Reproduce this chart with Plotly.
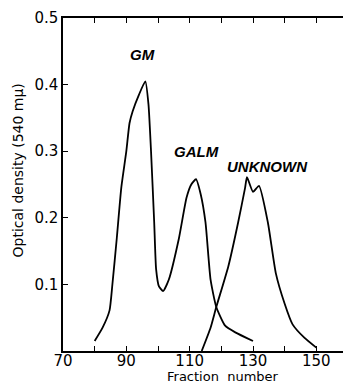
import plotly.graph_objects as go

# GM + GALM elution curve (one continuous trace)
gm_x = [80, 82.5, 84.7, 85.6, 87, 88.4, 90, 91, 92, 94, 96, 97, 97.8, 98.8, 99.4,
        100.3, 101.6, 103.4, 106.6, 109, 110.5, 112, 113.5, 115, 116.6, 118.4,
        121.2, 124.4, 130]
gm_y = [0.015, 0.035, 0.061, 0.10, 0.17, 0.245, 0.30, 0.342, 0.36, 0.385, 0.405,
        0.37, 0.30, 0.193, 0.123, 0.097, 0.09, 0.107, 0.169, 0.23, 0.25, 0.258,
        0.235, 0.193, 0.107, 0.066, 0.038, 0.028, 0.015]

# UNKNOWN curve
unk_x = [113.8, 116.6, 118.4, 122.2, 125.3, 127.5, 128.1, 130, 131.9, 134.7,
         137.2, 140, 142.5, 146.2, 150]
unk_y = [0.0, 0.035, 0.066, 0.127, 0.193, 0.245, 0.261, 0.239, 0.248, 0.193,
         0.117, 0.071, 0.04, 0.02, 0.005]

peak_labels = ["GM", "GALM", "UNKNOWN"]
peak_label_x = [95, 112, 134.7]
peak_label_y = [0.445, 0.30, 0.277]

x_tickvals = [70, 80, 90, 100, 110, 120, 130, 140, 150, 160]
x_ticktext = ["70", "", "90", "", "110", "", "130", "", "150", ""]
y_tickvals = [0.1, 0.2, 0.3, 0.4, 0.5]
y_ticktext = ["0.1", "0.2", "0.3", "0.4", "0.5"]

line_style = dict(color="black", width=1.8, shape="spline", smoothing=0.5)

fig = go.Figure()
fig.add_trace(go.Scatter(x=gm_x, y=gm_y, mode="lines", line=line_style,
                         showlegend=False, hoverinfo="skip"))
fig.add_trace(go.Scatter(x=unk_x, y=unk_y, mode="lines", line=line_style,
                         showlegend=False, hoverinfo="skip"))

for t, x, y in zip(peak_labels, peak_label_x, peak_label_y):
    fig.add_annotation(x=x, y=y, text="<b><i>" + t + "</i></b>", showarrow=False,
                       font=dict(family="Liberation Sans", size=15, color="black"))

# plot area (page px): x 63..350, y 17..343 ; page body has an 8px margin
fig.add_annotation(x=(224 - 63) / 287, y=-(368 - 343) / 326, xref="paper", yref="paper",
                   xanchor="center", yanchor="middle",
                   text="Fraction  number", showarrow=False,
                   font=dict(family="DejaVu Sans", size=13, color="black"))
fig.add_annotation(x=-(63 - 18) / 287, y=(343 - 166) / 326, xref="paper", yref="paper",
                   xanchor="center", yanchor="middle",
                   text="Optical density (540 m\u03bc)", showarrow=False, textangle=-90,
                   font=dict(family="DejaVu Sans", size=14, color="black"))

axis_common = dict(showgrid=False, zeroline=False, showline=True, linecolor="black",
                   linewidth=1.5, mirror="allticks", ticks="inside", ticklen=5,
                   tickcolor="black", tickwidth=1.2,
                   tickfont=dict(family="DejaVu Sans", size=15, color="black"))

fig.update_xaxes(range=[70, 160], tickmode="array", tickvals=x_tickvals,
                 ticktext=x_ticktext, ticklabelstandoff=-5, **axis_common)
fig.update_yaxes(range=[0, 0.5], tickmode="array", tickvals=y_tickvals,
                 ticktext=y_ticktext, **axis_common)

fig.update_layout(width=343, height=377, margin=dict(l=55, r=1, t=9, b=34),
                  plot_bgcolor="white", paper_bgcolor="white")

fig.write_html("out.html")
